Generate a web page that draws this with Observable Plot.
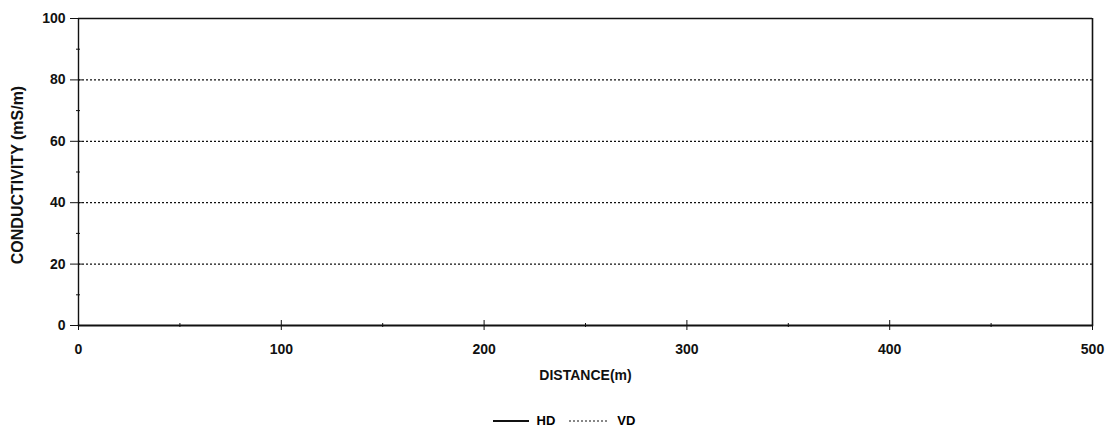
<!DOCTYPE html>
<html>
<head>
<meta charset="utf-8">
<script src="https://cdn.jsdelivr.net/npm/d3@7"></script>
<script src="https://cdn.jsdelivr.net/npm/@observablehq/plot@0.6"></script>
<style>
  body { margin: 0; background: #fff; font-family: "Liberation Sans", Arial, sans-serif; }
  #chart { width: 1109px; }
  .legend { display: flex; justify-content: center; align-items: center; gap: 8px;
            margin-left: 36px; margin-right: 17px; margin-top: 18px;
            font: bold 13px "Liberation Sans", Arial, sans-serif; }
  .legend svg { display: block; }
</style>
</head>
<body>
<div id="chart"></div>
<script>
// Survey stations along the profile (m) and measured conductivities (mS/m)
const distance = [0, 50, 100, 150, 200, 250, 300, 350, 400, 450, 500];
const hd = [0, 0, 0, 0, 0, 0, 0, 0, 0, 0, 0];
const vd = [0, 0, 0, 0, 0, 0, 0, 0, 0, 0, 0];

const xMajor = [0, 100, 200, 300, 400, 500];
const xMinor = [50, 150, 250, 350, 450];
const yMajor = [0, 20, 40, 60, 80, 100];
const yMinor = [10, 30, 50, 70, 90];
const yGrid = [20, 40, 60, 80];
const yTitle = "CONDUCTIVITY (mS/m)";

const rows = distance.map((d, i) => ({distance: d, hd: hd[i], vd: vd[i]}));

const plot = Plot.plot({
  width: 1109,
  height: 395,
  marginLeft: 78,
  marginRight: 17,
  marginTop: 18,
  marginBottom: 70,
  style: {fontFamily: "Liberation Sans, Arial, sans-serif", fontSize: "14px", fontWeight: "bold", color: "#111"},
  x: {domain: [0, 500]},
  y: {domain: [0, 100]},
  marks: [
    Plot.gridY(yGrid, {stroke: "#111", strokeOpacity: 1, strokeDasharray: "2,2", strokeWidth: 1.2}),
    Plot.ruleY([100], {stroke: "#111", strokeWidth: 1.6}),
    Plot.ruleX([500], {stroke: "#111", strokeWidth: 1.6}),
    Plot.ruleX([0], {stroke: "#111", strokeWidth: 1.4}),
    // y axis: major ticks crossing the spine, minor ticks small
    Plot.axisY({ticks: yMajor, tickSize: 8, tickPadding: 5, label: null, fontWeight: "bold", fontSize: 14}),
    Plot.axisY({ticks: yMajor, tickSize: 4, text: null, dx: 4, label: null}),
    Plot.axisY({ticks: yMinor, tickSize: 4, text: null, dx: 2, label: null}),
    Plot.text([yTitle], {frameAnchor: "left", textAnchor: "middle", rotate: -90, dx: -61, dy: 3, fontSize: 16, fontWeight: "bold", fill: "#111"}),
    // x axis: major ticks crossing the spine, minor ticks small
    Plot.axisX({ticks: xMajor, tickSize: 5, tickPadding: 14, label: "DISTANCE(m)", labelAnchor: "center", labelArrow: "none", labelOffset: 54, fontWeight: "bold", fontSize: 14}),
    Plot.axisX({ticks: xMajor, tickSize: 5, text: null, dy: -5, label: null}),
    Plot.axisX({ticks: xMinor, tickSize: 4, text: null, dy: -2, label: null}),
    Plot.line(rows, {x: "distance", y: "vd", stroke: "#111", strokeWidth: 1.2, strokeDasharray: "2,2"}),
    Plot.line(rows, {x: "distance", y: "hd", stroke: "#111", strokeWidth: 1.8})
  ]
});
document.getElementById("chart").append(plot);

// Legend below the chart
const legend = document.createElement("div");
legend.className = "legend";
legend.innerHTML = `
  <svg width="36" height="10"><line x1="0" y1="5" x2="36" y2="5" stroke="#111" stroke-width="1.8"/></svg>
  <span>HD</span>
  <svg width="40" height="10" style="margin-left:6px"><line x1="0" y1="5" x2="40" y2="5" stroke="#111" stroke-width="1.2" stroke-dasharray="2,2"/></svg>
  <span>VD</span>`;
document.getElementById("chart").append(legend);
</script>
</body>
</html>
